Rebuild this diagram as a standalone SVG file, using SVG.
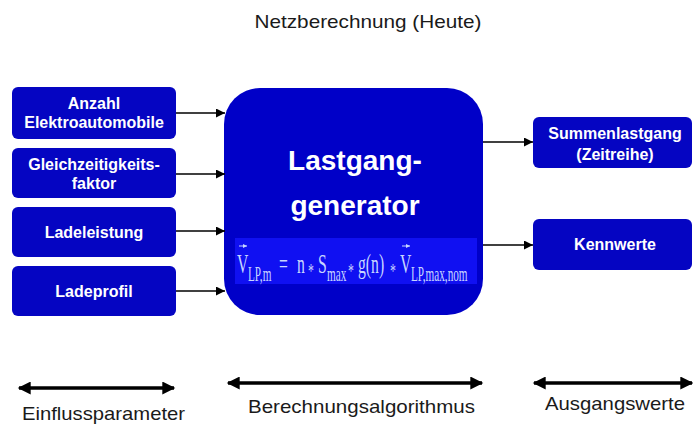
<svg xmlns="http://www.w3.org/2000/svg" width="693" height="430" viewBox="0 0 693 430">
<style>
.box{fill:#0505C2;}
.lbl{font-family:"Liberation Sans",Arial,sans-serif;font-weight:bold;font-size:16px;fill:#fff;text-anchor:middle;}
.big{font-family:"Liberation Sans",Arial,sans-serif;font-weight:bold;font-size:28px;fill:#fff;text-anchor:middle;}
.cap{font-family:"Liberation Sans",Arial,sans-serif;font-size:19px;fill:#1a1a1a;}
.f{font-family:"Liberation Serif","Times New Roman",serif;font-size:28px;fill:#C8D6FF;}
.s{font-size:20px;}
.a{font-size:21px;}
.con{stroke:#000;stroke-width:1.5;fill:none;}
.dbl{stroke:#000;stroke-width:3.5;fill:none;}
</style>
<defs>
<marker id="ah" viewBox="0 0 10 10" refX="10" refY="5" markerWidth="12" markerHeight="9" markerUnits="userSpaceOnUse" orient="auto">
<path d="M0,0 L10,5 L0,10 z" fill="#000"/>
</marker>
<marker id="dh" viewBox="0 0 10 10" refX="9" refY="5" markerWidth="14" markerHeight="13" markerUnits="userSpaceOnUse" orient="auto-start-reverse">
<path d="M0,0 L10,5 L0,10 z" fill="#000"/>
</marker>
<marker id="vh" viewBox="0 0 10 10" refX="10" refY="5" markerWidth="4" markerHeight="4" markerUnits="userSpaceOnUse" orient="auto">
<path d="M0,0 L10,5 L0,10 z" fill="#C8D6FF"/>
</marker>
</defs>
<rect width="693" height="430" fill="#fff"/>
<text class="cap" x="368" y="28" text-anchor="middle" textLength="227" lengthAdjust="spacingAndGlyphs">Netzberechnung (Heute)</text>

<g id="anzahl">
<rect class="box" x="12" y="87" width="164" height="52" rx="6"/>
<text class="lbl" x="94" y="109">Anzahl</text>
<text class="lbl" x="94" y="128">Elektroautomobile</text>
</g>
<g id="gleichzeitigkeit">
<rect class="box" x="12" y="148" width="164" height="50" rx="6"/>
<text class="lbl" x="94" y="170">Gleichzeitigkeits-</text>
<text class="lbl" x="94" y="189">faktor</text>
</g>
<g id="ladeleistung">
<rect class="box" x="12" y="207" width="164" height="50" rx="6"/>
<text class="lbl" x="94" y="238">Ladeleistung</text>
</g>
<g id="ladeprofil">
<rect class="box" x="12" y="266" width="164" height="50" rx="6"/>
<text class="lbl" x="94" y="297">Ladeprofil</text>
</g>

<g id="generator">
<rect x="224" y="88" width="259" height="227" rx="36" fill="#0000C8"/>
<text class="big" x="355" y="170">Lastgang-</text>
<text class="big" x="355" y="215">generator</text>
<rect x="235" y="238" width="242" height="46" fill="#1010F2"/>
<g transform="scale(0.56,1)">
<text class="f"><tspan x="423.2" y="273">V</tspan><tspan class="s" x="442.9" y="281">LP,m</tspan><tspan x="498.2" y="273">=</tspan><tspan x="530.4" y="273">n</tspan><tspan class="a" x="550" y="278">*</tspan><tspan x="567.9" y="273">S</tspan><tspan class="s" x="583.9" y="281">max</tspan><tspan class="a" x="621.4" y="278">*</tspan><tspan x="639.3" y="273">g(n)</tspan><tspan class="a" x="696.4" y="278">*</tspan><tspan x="714.3" y="273">V</tspan><tspan class="s" x="733.9" y="281">LP,max,nom</tspan></text>
</g>
<line x1="239" y1="246" x2="247" y2="246" stroke="#C8D6FF" stroke-width="1" marker-end="url(#vh)"/>
<line x1="402" y1="246" x2="410" y2="246" stroke="#C8D6FF" stroke-width="1" marker-end="url(#vh)"/>
</g>

<g id="summenlastgang">
<rect class="box" x="533" y="117" width="159" height="51" rx="6"/>
<text class="lbl" x="615" y="139">Summenlastgang</text>
<text class="lbl" x="615" y="160">(Zeitreihe)</text>
</g>
<g id="kennwerte">
<rect class="box" x="533" y="219" width="159" height="51" rx="6"/>
<text class="lbl" x="615" y="250">Kennwerte</text>
</g>

<g id="connectors">
<line class="con" x1="176" y1="113" x2="225" y2="113" marker-end="url(#ah)"/>
<line class="con" x1="176" y1="174" x2="225" y2="174" marker-end="url(#ah)"/>
<line class="con" x1="176" y1="231" x2="225" y2="231" marker-end="url(#ah)"/>
<line class="con" x1="176" y1="291" x2="225" y2="291" marker-end="url(#ah)"/>
<line class="con" x1="483" y1="142" x2="533" y2="142" marker-end="url(#ah)"/>
<line class="con" x1="483" y1="245" x2="533" y2="245" marker-end="url(#ah)"/>
</g>

<g id="legend">
<line class="dbl" x1="19" y1="388" x2="174" y2="388" marker-start="url(#dh)" marker-end="url(#dh)"/>
<line class="dbl" x1="228" y1="383" x2="482" y2="383" marker-start="url(#dh)" marker-end="url(#dh)"/>
<line class="dbl" x1="534" y1="383" x2="692" y2="383" marker-start="url(#dh)" marker-end="url(#dh)"/>
<text class="cap" x="22" y="420" textLength="163" lengthAdjust="spacingAndGlyphs">Einflussparameter</text>
<text class="cap" x="248" y="413" textLength="227" lengthAdjust="spacingAndGlyphs">Berechnungsalgorithmus</text>
<text class="cap" x="545" y="410" textLength="140" lengthAdjust="spacingAndGlyphs">Ausgangswerte</text>
</g>
</svg>
